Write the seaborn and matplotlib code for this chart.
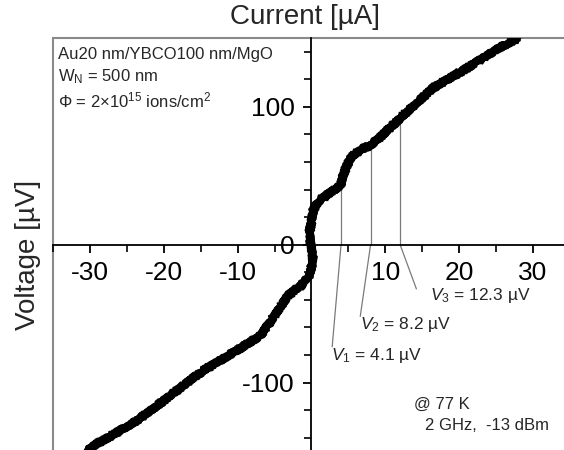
import numpy as np
import pandas as pd
import matplotlib
matplotlib.use('Agg')
import matplotlib.pyplot as plt
import seaborn as sns
from matplotlib.ticker import MultipleLocator
from matplotlib.patches import Rectangle

sns.set_theme(style='white')
plt.rcParams['font.family'] = ['Liberation Sans', 'DejaVu Sans']
plt.rcParams['mathtext.fontset'] = 'custom'
plt.rcParams['mathtext.rm'] = 'Liberation Sans'
plt.rcParams['mathtext.it'] = 'Liberation Sans:italic'
plt.rcParams['axes.unicode_minus'] = False

# I-V curve (current in uA, voltage in uV)
current = [-30.4, -29.9, -24.0, -20.5, -14.6, -10.5, -6.9, -5.1, -3.2, -1.5,
           -0.3, 0.2, 0.0, -0.3, 0.0, 0.3, 1.0, 2.6, 3.9, 4.6,
           5.3, 6.6, 8.0, 9.7, 12.0, 14.7, 16.5, 21.0, 25.5, 28.0]
voltage = [-150, -147, -129, -115, -91, -78, -66, -52, -37, -30,
           -22, -12, -2, 8, 18, 26, 32, 38, 43, 55,
           63, 69, 72, 80, 92, 105, 114, 128, 143, 150]

# marked step currents and their labels
step_current = [4.0, 8.0, 12.0]
step_labels = [r'$V_1$ = 4.1 µV', r'$V_2$ = 8.2 µV', r'$V_3$ = 12.3 µV']

xticks = [-30, -20, -10, 0, 10, 20, 30]
xticklabels = ['-30', '-20', '-10', '', '10', '20', '30']
yticks = [-100, 0, 100]
yticklabels = ['-100', '0', '100']

df = pd.DataFrame({'I': current, 'V': voltage})

fig = plt.figure(figsize=(5.64, 4.5), dpi=100)
ax = fig.add_axes([53/564, -0.0033, 517/564, 0.9189])

# noisy thick trace: a solid core plus a jagged outline
sns.lineplot(data=df, x='I', y='V', sort=False, estimator=None,
             color='black', linewidth=5.5, ax=ax)
sns.lineplot(data=df, x='I', y='V', sort=False, estimator=None,
             color='black', linewidth=2.0, ax=ax)
ax.lines[0].set_sketch_params(scale=1.2, length=1.5, randomness=3)
ax.lines[1].set_sketch_params(scale=4.0, length=1.0, randomness=2)

ax.set_xlim(-35, 35)
ax.set_ylim(-150, 150)

# centred axes
for side in ['left', 'bottom']:
    ax.spines[side].set_position(('data', 0))
    ax.spines[side].set_color('black')
    ax.spines[side].set_linewidth(1.3)
for side in ['top', 'right']:
    ax.spines[side].set_visible(False)
ax.add_patch(Rectangle((0, 0), 1, 1, transform=ax.transAxes, fill=False,
                       edgecolor='#8a8a8a', linewidth=1.5, clip_on=False, zorder=0))

ax.set_xticks(xticks)
ax.set_xticklabels(xticklabels)
ax.set_yticks(yticks)
ax.set_yticklabels(yticklabels)
ax.xaxis.set_minor_locator(MultipleLocator(5))
ax.yaxis.set_minor_locator(MultipleLocator(20))
ax.tick_params(axis='both', which='major', direction='out', length=6, width=1.3,
               labelsize=19, color='black', labelcolor='black')
ax.tick_params(axis='both', which='minor', direction='out', length=5, width=1.2, color='black')
ax.tick_params(axis='x', which='both', bottom=True, pad=6)
ax.tick_params(axis='y', which='both', left=True, pad=6)
ax.set_xlabel('')
ax.set_ylabel('')

fig.text(305/564, 1 - 17/450, 'Current [µA]', ha='center', va='center', fontsize=20)
fig.text(28/564, 1 - 255/450, 'Voltage [µV]', ha='center', va='center',
         rotation=90, fontsize=20)

# leader lines for the marked steps
upper = df[df['I'] >= 2.6]
tops = np.interp(step_current, upper['I'], upper['V'])
leader_ends = [(2.8, -74), (6.6, -52), (14.2, -32)]
label_pos = [(2.6, -80), (6.6, -58), (16.1, -37)]
for x0, top, end, pos, lab in zip(step_current, tops, leader_ends, label_pos, step_labels):
    ax.plot([x0, x0], [top, 0], color='#7a7a7a', lw=0.9, zorder=1)
    ax.plot([x0, end[0]], [0, end[1]], color='#7a7a7a', lw=0.9, zorder=1)
    ax.text(pos[0], pos[1], lab, ha='left', va='center', fontsize=12.5)

fig.text(58/564, 1 - 55/450, 'Au20 nm/YBCO100 nm/MgO', ha='left', va='center', fontsize=12)
fig.text(58/564, 1 - 77/450, r'W$_\mathregular{N}$ = 500 nm', ha='left', va='center', fontsize=12)
fig.text(58/564, 1 - 100/450, r'$\mathregular{\Phi}$ = 2×10$^\mathregular{15}$ ions/cm$^\mathregular{2}$',
         ha='left', va='center', fontsize=12)

fig.text(414/564, 1 - 404/450, '@ 77 K', ha='left', va='center', fontsize=12)
fig.text(425/564, 1 - 425/450, '2 GHz,  -13 dBm', ha='left', va='center', fontsize=12)

fig.savefig('out.png', dpi=100)
